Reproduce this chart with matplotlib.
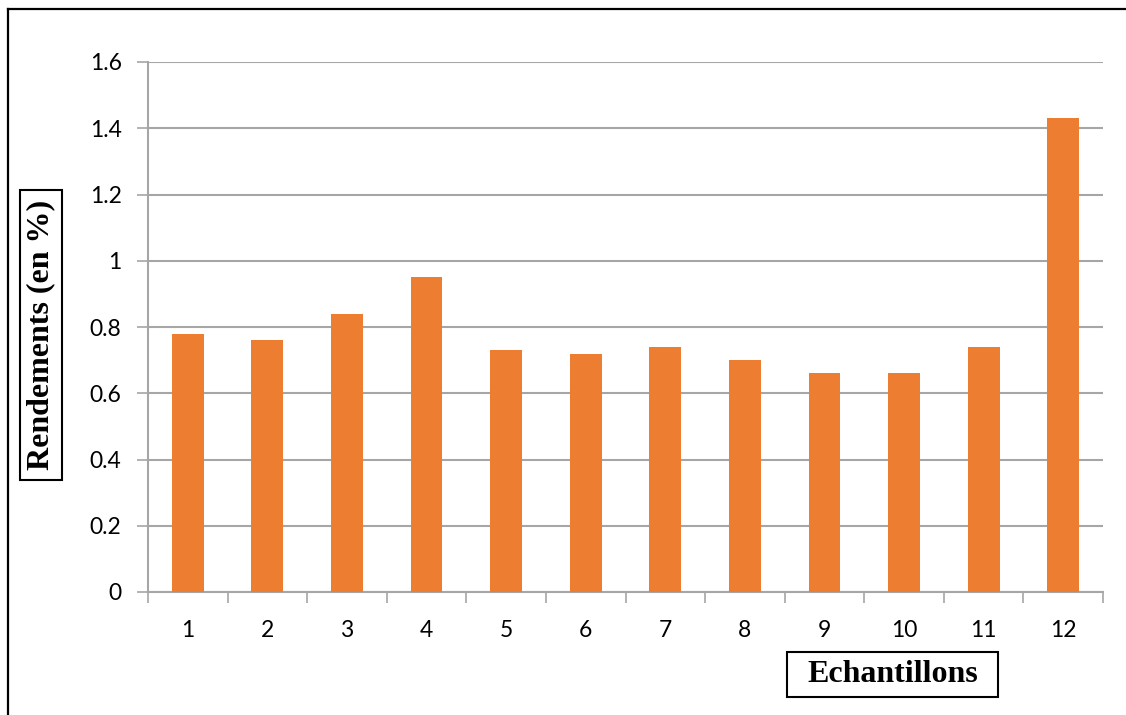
import matplotlib
matplotlib.use("Agg")
import matplotlib.pyplot as plt
from matplotlib.lines import Line2D
from matplotlib.patches import Rectangle
from matplotlib.ticker import FixedLocator, NullFormatter, FixedFormatter

ORANGE = "#ED7D31"
GRID = "#A6A6A6"

samples = ["1", "2", "3", "4", "5", "6", "7", "8", "9", "10", "11", "12"]
rendements = [0.78, 0.76, 0.84, 0.95, 0.73, 0.72, 0.74, 0.70, 0.66, 0.66, 0.74, 1.43]
y_ticks = [0, 0.2, 0.4, 0.6, 0.8, 1.0, 1.2, 1.4, 1.6]
y_labels = ["0", "0.2", "0.4", "0.6", "0.8", "1", "1.2", "1.4", "1.6"]

W, H = 1126, 715
fig = plt.figure(figsize=(W / 100, H / 100), dpi=100)
ax = fig.add_axes([148 / W, 1 - 592 / H, (1103 - 148) / W, (592 - 62) / H])

x = list(range(1, len(samples) + 1))
ax.bar(x, rendements, width=0.40, color=ORANGE, zorder=3)

ax.set_xlim(0.5, len(samples) + 0.5)
ax.set_ylim(0, 1.6)

# y axis: gridlines + outward ticks
ax.yaxis.set_major_locator(FixedLocator(y_ticks))
ax.yaxis.set_major_formatter(FixedFormatter(y_labels))
ax.grid(axis="y", color=GRID, lw=1.5, zorder=0)
ax.tick_params(axis="y", direction="out", length=8, width=1.2, color=GRID,
               pad=11, labelsize=16.5)

# x axis: ticks on category boundaries, labels centred under bars
ax.xaxis.set_major_locator(FixedLocator([i + 0.5 for i in range(len(samples) + 1)]))
ax.xaxis.set_major_formatter(NullFormatter())
ax.xaxis.set_minor_locator(FixedLocator(x))
ax.xaxis.set_minor_formatter(FixedFormatter(samples))
ax.tick_params(axis="x", which="major", direction="out", length=8, width=1.2, color=GRID)
ax.tick_params(axis="x", which="minor", length=0, pad=20, labelsize=16.5)

for lab in ax.get_xticklabels(which="minor") + ax.get_yticklabels():
    lab.set_fontfamily(["Lato", "DejaVu Sans"])

for s in ["top", "right"]:
    ax.spines[s].set_visible(False)
for s in ["left", "bottom"]:
    ax.spines[s].set_color(GRID)
    ax.spines[s].set_linewidth(1.5)


def boxed_label(x0, y0, x1, y1, text, rotation=0):
    # framed axis title, box given in pixel coords from the top-left corner
    fig.add_artist(Rectangle((x0 / W, 1 - y1 / H), (x1 - x0) / W, (y1 - y0) / H,
                             transform=fig.transFigure, facecolor="white",
                             edgecolor="black", lw=1.5))
    fig.text((x0 + x1) / 2 / W, 1 - (y0 + y1) / 2 / H, text, rotation=rotation,
             ha="center", va="center", fontsize=23, fontweight="bold",
             family="Liberation Serif")


boxed_label(20, 190, 62, 480, "Rendements (en %)", rotation=90)
boxed_label(787, 652, 998, 697, "Echantillons")

# outer frame (left and top edges)
fig.add_artist(Line2D([8 / W, 8 / W], [0.0, 1 - 9 / H], color="black", lw=1.6,
                      transform=fig.transFigure))
fig.add_artist(Line2D([8 / W, 1.0], [1 - 9 / H, 1 - 9 / H], color="black", lw=1.6,
                      transform=fig.transFigure))

fig.savefig("out.png", dpi=100)
